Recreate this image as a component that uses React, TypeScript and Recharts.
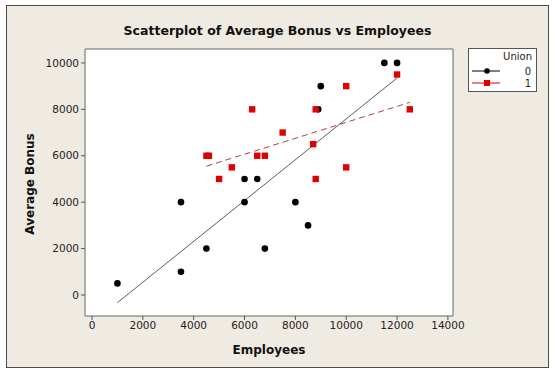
import {
  ScatterChart,
  Scatter,
  XAxis,
  YAxis,
  ReferenceArea,
  ReferenceLine,
} from 'recharts';

// Union = 0
const union0Employees = [1000, 3500, 3500, 4500, 6000, 6000, 6500, 6800, 8000, 8500, 9000, 8900, 11500, 12000];
const union0Bonus = [500, 4000, 1000, 2000, 5000, 4000, 5000, 2000, 4000, 3000, 9000, 8000, 10000, 10000];

// Union = 1
const union1Employees = [4500, 4600, 5000, 5500, 6300, 6500, 6800, 7500, 8700, 8800, 8800, 10000, 10000, 12000, 12500];
const union1Bonus = [6000, 6000, 5000, 5500, 8000, 6000, 6000, 7000, 6500, 8000, 5000, 9000, 5500, 9500, 8000];

// fitted lines, endpoints
const fit0Employees = [1000, 12000];
const fit0Bonus = [-330, 9350];
const fit1Employees = [4500, 12500];
const fit1Bonus = [5550, 8300];

const xTicks = [0, 2000, 4000, 6000, 8000, 10000, 12000, 14000];
const yTicks = [0, 2000, 4000, 6000, 8000, 10000];
const groups = ['0', '1'];

const X_DOMAIN: [number, number] = [-275, 14200];
const Y_DOMAIN: [number, number] = [-905, 10600];

const FONT = '"DejaVu Sans", sans-serif';
const RED = '#e00000';

const zip = (xs: number[], ys: number[]) => xs.map((x, i) => ({ x, y: ys[i] }));

const Dot = (props: any) => <circle cx={props.cx} cy={props.cy} r={3.3} fill="#000" />;
const Sq = (props: any) => (
  <rect x={props.cx - 3.2} y={props.cy - 3.2} width={6.4} height={6.4} fill={RED} />
);

function UnionLegend() {
  return (
    <div
      style={{
        position: 'absolute',
        left: 468,
        top: 48,
        width: 69,
        height: 44,
        border: '1px solid #555',
        background: '#fff',
        fontFamily: FONT,
        fontSize: 10,
        color: '#222',
        boxSizing: 'border-box',
      }}
    >
      <div style={{ textAlign: 'right', paddingRight: 4, paddingTop: 2, height: 14 }}>Union</div>
      {groups.map((g, i) => (
        <div key={g} style={{ display: 'flex', alignItems: 'center', height: 12 }}>
          <svg width={40} height={12}>
            <line
              x1={3}
              x2={31}
              y1={6}
              y2={6}
              stroke={i === 0 ? '#000' : RED}
              strokeWidth={1}
            />
            {i === 0 ? (
              <circle cx={18} cy={6} r={2.8} fill="#000" />
            ) : (
              <rect x={15} y={3} width={6} height={6} fill={RED} />
            )}
          </svg>
          <span style={{ flex: 1, textAlign: 'right', paddingRight: 5 }}>{g}</span>
        </div>
      ))}
    </div>
  );
}

export default function App() {
  return (
    <div style={{ position: 'absolute', left: 0, top: 0, width: 555, height: 373, background: '#fff' }}>
      <div
        style={{
          position: 'absolute',
          left: 6,
          top: 5,
          width: 543,
          height: 363,
          background: '#efebe2',
          border: '1px solid #4a4a4a',
          boxSizing: 'border-box',
        }}
      />
      <div
        style={{
          position: 'absolute',
          left: 0,
          top: 23,
          width: 555,
          textAlign: 'center',
          fontFamily: FONT,
          fontWeight: 'bold',
          fontSize: 12.5,
          color: '#111',
        }}
      >
        Scatterplot of Average Bonus vs Employees
      </div>
      <div style={{ position: 'absolute', left: 0, top: 0 }}>
        <ScatterChart width={555} height={373} margin={{ top: 49, right: 102, bottom: 15, left: 25 }}>
          <XAxis
            type="number"
            dataKey="x"
            domain={X_DOMAIN}
            ticks={xTicks}
            allowDataOverflow
            axisLine={false}
            tickLine={{ stroke: '#555' }}
            tickSize={4}
            height={42}
            tick={{ fill: '#222', fontSize: 10.5, fontFamily: FONT }}
            label={{
              value: 'Employees',
              position: 'insideBottom',
              offset: 4,
              style: { fontFamily: FONT, fontWeight: 'bold', fontSize: 12, fill: '#111' },
            }}
          />
          <YAxis
            type="number"
            dataKey="y"
            domain={Y_DOMAIN}
            ticks={yTicks}
            allowDataOverflow
            axisLine={false}
            tickLine={{ stroke: '#555' }}
            tickSize={4}
            width={60}
            tick={{ fill: '#222', fontSize: 10.5, fontFamily: FONT }}
            label={{
              content: () => (
                <text
                  x={34}
                  y={184}
                  transform="rotate(-90 34 184)"
                  textAnchor="middle"
                  fontFamily={FONT}
                  fontWeight="bold"
                  fontSize={12}
                  fill="#111"
                >
                  Average Bonus
                </text>
              ),
            }}
          />
          <ReferenceArea
            x1={X_DOMAIN[0]}
            x2={X_DOMAIN[1]}
            y1={Y_DOMAIN[0]}
            y2={Y_DOMAIN[1]}
            fill="#fff"
            fillOpacity={1}
            stroke="#666"
            strokeWidth={1}
          />
          <ReferenceLine
            segment={zip(fit0Employees, fit0Bonus)}
            stroke="#333"
            strokeWidth={0.8}
          />
          <ReferenceLine
            segment={zip(fit1Employees, fit1Bonus)}
            stroke="#b04040"
            strokeWidth={1}
            strokeDasharray="6 4"
          />
          <Scatter
            name="0"
            data={zip(union0Employees, union0Bonus)}
            shape={Dot}
            isAnimationActive={false}
          />
          <Scatter
            name="1"
            data={zip(union1Employees, union1Bonus)}
            shape={Sq}
            isAnimationActive={false}
          />
        </ScatterChart>
      </div>
      <UnionLegend />
    </div>
  );
}
